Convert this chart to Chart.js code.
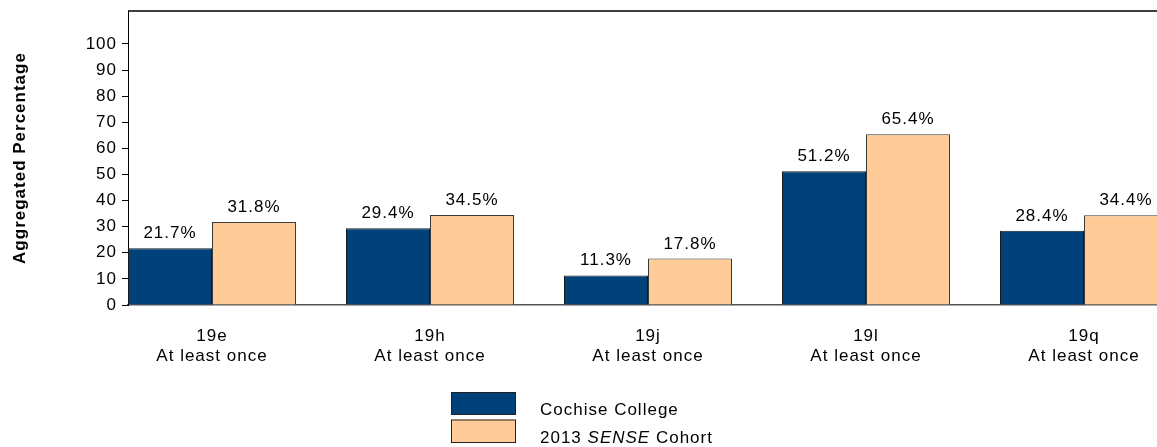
<!DOCTYPE html>
<html>
<head>
<meta charset="utf-8">
<script src="https://cdn.jsdelivr.net/npm/chart.js@4/dist/chart.umd.min.js"></script>
<style>
  html, body { margin: 0; padding: 0; overflow: hidden; background: #fff; }
  #wrap { width: 1180px; height: 447px; }
</style>
</head>
<body>
<div id="wrap"><canvas id="c" width="1180" height="447"></canvas></div>
<script>
// ---- data ----
const categories = ["19e", "19h", "19j", "19l", "19q"];
const subLabel = "At least once";
const cochise = [21.7, 29.4, 11.3, 51.2, 28.4];
const cohort = [31.8, 34.5, 17.8, 65.4, 34.4];
const seriesNames = ["Cochise College", "2013 SENSE Cohort"];
const yTicks = [0, 10, 20, 30, 40, 50, 60, 70, 80, 90, 100];

const FONT = '"Liberation Sans", Arial, Helvetica, sans-serif';
const BLUE = '#00417a';
const ORANGE = '#ffcc99';

const spacingPlugin = {
  id: 'spacing',
  beforeUpdate(chart) { chart.ctx.letterSpacing = '1px'; },
  beforeLayout(chart) { chart.ctx.letterSpacing = '1px'; },
  beforeDraw(chart) { chart.ctx.letterSpacing = '1px'; }
};

const framePlugin = {
  id: 'frame',
  afterDraw(chart) {
    const {ctx, chartArea} = chart;
    ctx.save();
    ctx.strokeStyle = '#000';
    ctx.lineWidth = 1.5;
    ctx.beginPath();
    ctx.moveTo(chartArea.left, chartArea.top);
    ctx.lineTo(chartArea.right, chartArea.top);
    ctx.lineTo(chartArea.right, chartArea.bottom);
    ctx.stroke();
    ctx.restore();
  }
};

const valueLabelPlugin = {
  id: 'valueLabels',
  afterDatasetsDraw(chart) {
    const {ctx} = chart;
    ctx.save();
    ctx.letterSpacing = '1px';
    ctx.font = '17px ' + FONT;
    ctx.fillStyle = '#000';
    ctx.textAlign = 'center';
    ctx.textBaseline = 'alphabetic';
    chart.data.datasets.forEach((ds, di) => {
      const meta = chart.getDatasetMeta(di);
      meta.data.forEach((bar, i) => {
        const v = ds.data[i].y;
        ctx.fillText(v.toFixed(1) + '%', bar.x, bar.y - 10);
      });
    });
    ctx.restore();
  }
};

const legendPlugin = {
  id: 'customLegend',
  afterDraw(chart) {
    const {ctx} = chart;
    ctx.save();
    ctx.letterSpacing = '1px';
    const x = 451, w = 65;
    const rows = [
      {y: 392, h: 23, color: BLUE, parts: [[seriesNames[0], 'normal']]},
      {y: 419.5, h: 23.5, color: ORANGE, parts: [['2013 ', 'normal'], ['SENSE', 'italic'], [' Cohort', 'normal']]}
    ];
    rows.forEach(r => {
      ctx.fillStyle = r.color;
      ctx.fillRect(x, r.y, w, r.h);
      ctx.strokeStyle = '#222';
      ctx.lineWidth = 1;
      ctx.strokeRect(x + 0.5, r.y + 0.5, w - 1, r.h - 1);
      let tx = 540;
      const baseline = r.y + r.h - 0.5;
      ctx.fillStyle = '#000';
      ctx.textBaseline = 'alphabetic';
      ctx.textAlign = 'left';
      r.parts.forEach(([t, style]) => {
        ctx.font = (style === 'italic' ? 'italic ' : '') + '17px ' + FONT;
        ctx.fillText(t, tx, baseline);
        tx += ctx.measureText(t).width;
      });
    });
    ctx.restore();
  }
};

const halfGroup = 0.3853;

new Chart(document.getElementById('c'), {
  type: 'bar',
  data: {
    datasets: [
      {
        label: seriesNames[0],
        data: categories.map((c, i) => ({x: i, y: cochise[i]})),
        backgroundColor: BLUE,
        borderColor: '#1a1a1a',
        borderWidth: 1
      },
      {
        label: seriesNames[1],
        data: categories.map((c, i) => ({x: i, y: cohort[i]})),
        backgroundColor: ORANGE,
        borderColor: '#3a3a3a',
        borderWidth: 1
      }
    ]
  },
  options: {
    responsive: false,
    animation: false,
    devicePixelRatio: 1,
    layout: { padding: { left: 0, right: 12, top: 11, bottom: 0 } },
    datasets: { bar: { categoryPercentage: 0.7706, barPercentage: 1.0 } },
    plugins: {
      legend: { display: false },
      tooltip: { enabled: false },
      title: { display: false }
    },
    scales: {
      x: {
        type: 'linear',
        offset: false,
        min: -halfGroup,
        max: categories.length - 1 + halfGroup,
        afterFit(scale) { scale.height = 142; scale.paddingLeft = 0; scale.paddingRight = 0; },
        grid: { display: true, offset: false, drawOnChartArea: false, drawTicks: false, color: 'rgba(0,0,0,0)' },
        border: { display: true, color: '#555', width: 1.5 },
        ticks: {
          stepSize: 1,
          includeBounds: false,
          autoSkip: false,
          maxRotation: 0,
          padding: 21,
          color: '#000',
          font: { family: FONT, size: 17, lineHeight: 1.1765 },
          callback(v) {
            return Number.isInteger(v) && categories[v] !== undefined ? [categories[v], subLabel] : '';
          }
        }
      },
      y: {
        type: 'linear',
        min: 0,
        max: 112.6,
        afterFit(scale) { scale.width = 128; scale.paddingTop = 0; scale.paddingBottom = 0; },
        afterBuildTicks(scale) { scale.ticks = yTicks.map(v => ({value: v})); },
        grid: { display: true, drawOnChartArea: false, drawTicks: true, tickLength: 6, color: '#000' },
        border: { display: true, color: '#000', width: 1 },
        ticks: {
          padding: 5,
          color: '#000',
          font: { family: FONT, size: 17 },
          callback(v) { return String(v); }
        },
        title: {
          display: true,
          text: 'Aggregated Percentage',
          color: '#000',
          font: { family: FONT, size: 17, weight: 'bold', lineHeight: 1.2 },
          padding: { top: 10, bottom: 0 }
        }
      }
    }
  },
  plugins: [spacingPlugin, framePlugin, valueLabelPlugin, legendPlugin]
});
</script>
</body>
</html>
